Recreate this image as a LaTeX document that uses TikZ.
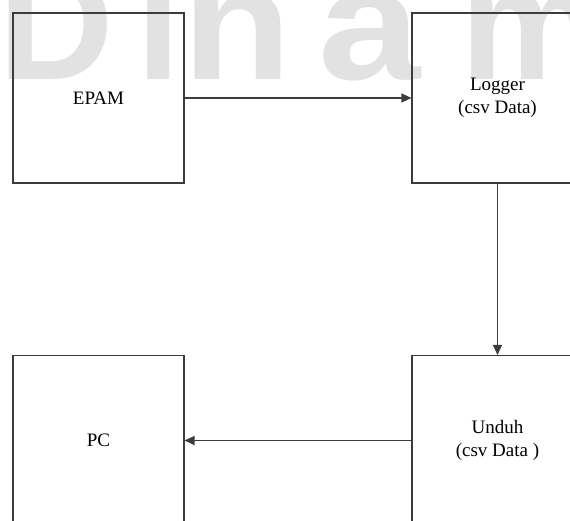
\documentclass[tikz,border=0pt]{standalone}
\usepackage{fontspec}
\setmainfont{Liberation Serif}
\newfontfamily\wmfont{Liberation Sans}[BoldFont={Liberation Sans Bold}]
\usetikzlibrary{arrows.meta}
\definecolor{wmgray}{RGB}{226,226,226}
\definecolor{linegray}{RGB}{60,60,60}
\tikzset{
  blockbox/.style={draw=linegray, line width=1.1pt, minimum width=171pt, minimum height=170pt,
    inner sep=0pt, align=center, font=\fontsize{19}{23}\selectfont},
  flowarrow/.style={draw=linegray, line width=1.1pt, -{Triangle[length=10pt,width=9pt]}},
  wmletter/.style={text=wmgray, inner sep=0pt, anchor=base west, font=\wmfont\bfseries\fontsize{160}{160}\selectfont}
}
\begin{document}
\begin{tikzpicture}[x=1pt,y=-1pt]
\useasboundingbox (0,0) rectangle (570,521);
\clip (0,0) rectangle (570,521);
% watermark
\node[wmletter] (wmD) at (-2,80) {D};
\node[wmletter] (wmi) at (136,80) {i};
\node[wmletter, xscale=1.12] (wmn) at (182,80) {n};
\node[wmletter, xscale=1.15] (wma) at (318,80) {a};
\node[wmletter] (wmm) at (460,80) {m};
% blocks
\node[blockbox] (epam) at (98.5,98) {EPAM};
\node[blockbox] (logger) at (497.5,98) {Logger\\(csv Data)};
\node[blockbox] (pc) at (98.5,440.5) {PC};
\node[blockbox] (unduh) at (497.5,440.5) {Unduh\\(csv Data )};
% connectors
\draw[flowarrow] (epam.east) -- (logger.west);
\draw[flowarrow] (logger.south) -- (unduh.north);
\draw[flowarrow] (unduh.west) -- (pc.east);
\end{tikzpicture}
\end{document}
